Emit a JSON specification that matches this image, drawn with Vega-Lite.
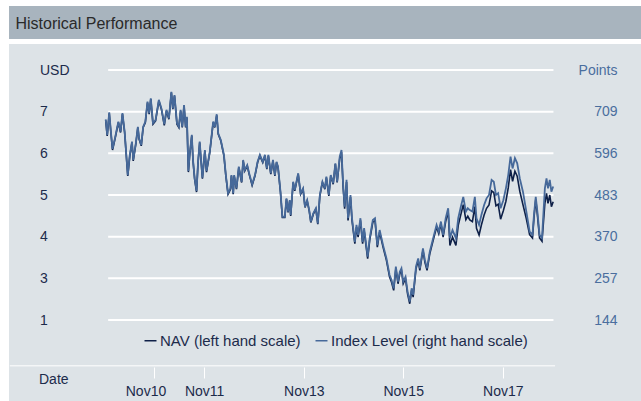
{
"$schema": "https://vega.github.io/schema/vega-lite/v6.json",
"background": "white",
"padding": {"left": 9, "top": 6, "right": 0, "bottom": 0},
"config": {"font": "Liberation Sans", "view": {"stroke": null}},
"spacing": 5,
"datasets": {
"grid": [{"usd":2},{"usd":3},{"usd":4},{"usd":5},{"usd":6},{"usd":7},{"usd":8}],
"perf": [
{"date":"2009-11-08","nav":6.79,"index":688},{"date":"2009-11-19","nav":6.42,"index":646},{"date":"2009-12-04","nav":6.96,"index":707},{"date":"2009-12-16","nav":6.50,"index":655},{"date":"2009-12-28","nav":6.08,"index":608},{"date":"2010-01-15","nav":6.34,"index":637},{"date":"2010-02-09","nav":6.74,"index":682},{"date":"2010-02-25","nav":6.50,"index":655},{"date":"2010-03-11","nav":6.94,"index":705},{"date":"2010-03-27","nav":6.50,"index":655},
{"date":"2010-04-19","nav":5.46,"index":537},{"date":"2010-05-04","nav":5.94,"index":592},{"date":"2010-05-20","nav":6.26,"index":628},{"date":"2010-05-29","nav":5.82,"index":578},{"date":"2010-06-17","nav":6.22,"index":623},{"date":"2010-07-02","nav":6.62,"index":668},{"date":"2010-07-11","nav":6.34,"index":637},{"date":"2010-07-27","nav":6.18,"index":619},{"date":"2010-08-10","nav":6.62,"index":668},{"date":"2010-08-26","nav":6.74,"index":682},
{"date":"2010-09-11","nav":7.22,"index":736},{"date":"2010-09-23","nav":6.94,"index":705},{"date":"2010-10-05","nav":7.30,"index":745},{"date":"2010-10-21","nav":6.70,"index":678},{"date":"2010-11-09","nav":6.78,"index":686},{"date":"2010-12-03","nav":7.26,"index":741},{"date":"2010-12-22","nav":7.06,"index":718},{"date":"2011-01-12","nav":6.67,"index":675},{"date":"2011-01-28","nav":7.02,"index":714},{"date":"2011-02-15","nav":6.82,"index":691},
{"date":"2011-03-05","nav":7.46,"index":763},{"date":"2011-03-16","nav":7.06,"index":718},{"date":"2011-03-28","nav":7.38,"index":754},{"date":"2011-04-15","nav":6.70,"index":678},{"date":"2011-04-29","nav":6.62,"index":668},{"date":"2011-05-12","nav":7.02,"index":714},{"date":"2011-05-24","nav":6.62,"index":668},{"date":"2011-06-06","nav":7.14,"index":727},{"date":"2011-06-18","nav":6.62,"index":668},{"date":"2011-06-27","nav":6.86,"index":695},
{"date":"2011-07-08","nav":5.55,"index":548},{"date":"2011-07-17","nav":5.94,"index":592},{"date":"2011-08-02","nav":6.42,"index":646},{"date":"2011-08-11","nav":5.82,"index":578},{"date":"2011-08-23","nav":5.38,"index":528},{"date":"2011-09-06","nav":5.07,"index":494},{"date":"2011-09-17","nav":5.78,"index":573},{"date":"2011-09-29","nav":6.26,"index":628},{"date":"2011-10-19","nav":5.39,"index":530},{"date":"2011-11-06","nav":6.06,"index":605},
{"date":"2011-11-18","nav":5.55,"index":548},{"date":"2011-12-12","nav":6.02,"index":600},{"date":"2012-01-06","nav":6.74,"index":682},{"date":"2012-01-18","nav":6.62,"index":668},{"date":"2012-02-01","nav":6.91,"index":702},{"date":"2012-02-12","nav":6.46,"index":650},{"date":"2012-03-02","nav":6.30,"index":632},{"date":"2012-03-25","nav":5.94,"index":592},{"date":"2012-04-08","nav":5.46,"index":537},{"date":"2012-04-24","nav":5.02,"index":488},
{"date":"2012-05-12","nav":5.14,"index":501},{"date":"2012-05-19","nav":5.46,"index":537},{"date":"2012-06-01","nav":5.02,"index":488},{"date":"2012-06-08","nav":5.46,"index":537},{"date":"2012-06-25","nav":5.14,"index":501},{"date":"2012-07-12","nav":5.66,"index":560},{"date":"2012-08-02","nav":5.30,"index":519},{"date":"2012-08-13","nav":5.82,"index":578},{"date":"2012-08-25","nav":5.58,"index":551},{"date":"2012-09-12","nav":5.70,"index":564},
{"date":"2012-09-26","nav":5.50,"index":542},{"date":"2012-10-18","nav":5.23,"index":512},{"date":"2012-11-08","nav":5.46,"index":537},{"date":"2012-11-27","nav":5.78,"index":573},{"date":"2012-12-14","nav":5.94,"index":592},{"date":"2013-01-04","nav":5.78,"index":573},{"date":"2013-01-20","nav":5.94,"index":592},{"date":"2013-02-03","nav":5.62,"index":555},{"date":"2013-02-14","nav":5.94,"index":592},{"date":"2013-03-04","nav":5.50,"index":542},
{"date":"2013-03-20","nav":5.82,"index":578},{"date":"2013-04-03","nav":5.46,"index":537},{"date":"2013-04-15","nav":5.78,"index":573},{"date":"2013-04-26","nav":5.66,"index":560},{"date":"2013-05-14","nav":5.06,"index":492},{"date":"2013-05-28","nav":4.46,"index":424},{"date":"2013-06-15","nav":4.46,"index":424},{"date":"2013-06-27","nav":4.90,"index":474},{"date":"2013-07-09","nav":4.58,"index":438},{"date":"2013-07-21","nav":4.86,"index":469},
{"date":"2013-07-28","nav":4.50,"index":429},{"date":"2013-08-15","nav":5.30,"index":519},{"date":"2013-08-27","nav":5.10,"index":497},{"date":"2013-09-21","nav":5.50,"index":542},{"date":"2013-10-09","nav":5.02,"index":488},{"date":"2013-10-27","nav":5.14,"index":501},{"date":"2013-11-10","nav":4.70,"index":451},{"date":"2013-11-26","nav":4.86,"index":469},{"date":"2013-12-11","nav":4.62,"index":442},{"date":"2013-12-23","nav":4.34,"index":411},
{"date":"2014-01-10","nav":4.54,"index":433},{"date":"2014-01-29","nav":4.66,"index":447},{"date":"2014-02-12","nav":4.30,"index":406},{"date":"2014-02-27","nav":4.98,"index":483},{"date":"2014-03-18","nav":5.30,"index":519},{"date":"2014-04-05","nav":5.14,"index":501},{"date":"2014-04-16","nav":5.42,"index":533},{"date":"2014-05-04","nav":4.98,"index":483},{"date":"2014-05-18","nav":5.46,"index":537},{"date":"2014-06-05","nav":5.26,"index":515},
{"date":"2014-06-21","nav":5.74,"index":569},{"date":"2014-07-04","nav":5.30,"index":519},{"date":"2014-07-23","nav":5.87,"index":587},{"date":"2014-08-05","nav":6.03,"index":605},{"date":"2014-08-17","nav":5.19,"index":510},{"date":"2014-08-28","nav":4.67,"index":451},{"date":"2014-09-11","nav":5.31,"index":524},{"date":"2014-09-22","nav":4.39,"index":420},{"date":"2014-10-10","nav":4.95,"index":483},{"date":"2014-10-21","nav":4.39,"index":420},
{"date":"2014-11-11","nav":3.83,"index":356},{"date":"2014-11-23","nav":4.23,"index":402},{"date":"2014-12-05","nav":3.99,"index":375},{"date":"2014-12-22","nav":4.39,"index":420},{"date":"2015-01-07","nav":3.83,"index":356},{"date":"2015-01-18","nav":4.15,"index":393},{"date":"2015-02-13","nav":3.47,"index":316},{"date":"2015-02-28","nav":3.91,"index":366},{"date":"2015-03-23","nav":4.35,"index":415},{"date":"2015-04-08","nav":4.39,"index":420},
{"date":"2015-04-25","nav":3.75,"index":347},{"date":"2015-05-12","nav":4.11,"index":388},{"date":"2015-06-06","nav":3.75,"index":347},{"date":"2015-07-01","nav":3.43,"index":311},{"date":"2015-07-24","nav":3.03,"index":266},{"date":"2015-08-07","nav":2.91,"index":253},{"date":"2015-08-23","nav":2.71,"index":230},{"date":"2015-09-08","nav":3.23,"index":289},{"date":"2015-09-24","nav":2.87,"index":248},{"date":"2015-10-07","nav":3.11,"index":275},
{"date":"2015-10-19","nav":3.19,"index":284},{"date":"2015-11-01","nav":2.87,"index":248},{"date":"2015-11-18","nav":2.99,"index":261},{"date":"2015-12-03","nav":2.63,"index":221},{"date":"2015-12-19","nav":2.39,"index":194},{"date":"2016-01-02","nav":2.71,"index":230},{"date":"2016-01-13","nav":2.55,"index":212},{"date":"2016-02-03","nav":3.23,"index":289},{"date":"2016-02-19","nav":3.43,"index":311},{"date":"2016-03-02","nav":3.19,"index":284},
{"date":"2016-03-25","nav":3.67,"index":338},{"date":"2016-04-08","nav":3.39,"index":307},{"date":"2016-04-24","nav":3.19,"index":284},{"date":"2016-05-14","nav":3.59,"index":329},{"date":"2016-06-08","nav":3.91,"index":366},{"date":"2016-07-03","nav":4.23,"index":402},{"date":"2016-07-19","nav":4.07,"index":384},{"date":"2016-08-04","nav":4.31,"index":411},{"date":"2016-08-20","nav":3.99,"index":375},{"date":"2016-09-08","nav":4.37,"index":420},
{"date":"2016-09-26","nav":4.61,"index":447},{"date":"2016-10-09","nav":3.79,"index":366},{"date":"2016-10-28","nav":3.99,"index":388},{"date":"2016-11-22","nav":3.79,"index":366},{"date":"2016-12-09","nav":4.27,"index":420},{"date":"2016-12-28","nav":4.53,"index":451},{"date":"2017-01-15","nav":4.77,"index":478},{"date":"2017-02-03","nav":4.41,"index":438},{"date":"2017-02-17","nav":4.49,"index":447},{"date":"2017-03-04","nav":4.40,"index":442},
{"date":"2017-03-23","nav":4.36,"index":438},{"date":"2017-04-10","nav":4.72,"index":478},{"date":"2017-04-22","nav":4.20,"index":420},{"date":"2017-05-11","nav":4.04,"index":402},{"date":"2017-05-28","nav":4.28,"index":429},{"date":"2017-06-17","nav":4.52,"index":456},{"date":"2017-07-05","nav":4.68,"index":474},{"date":"2017-07-23","nav":4.76,"index":483},{"date":"2017-08-11","nav":5.10,"index":524},{"date":"2017-08-27","nav":5.06,"index":519},
{"date":"2017-09-12","nav":4.74,"index":483},{"date":"2017-09-28","nav":4.78,"index":488},{"date":"2017-10-16","nav":4.42,"index":447},{"date":"2017-11-05","nav":4.62,"index":469},{"date":"2017-11-24","nav":4.85,"index":501},{"date":"2017-12-11","nav":5.17,"index":537},{"date":"2017-12-28","nav":5.61,"index":587},{"date":"2018-01-12","nav":5.33,"index":555},{"date":"2018-01-29","nav":5.57,"index":583},{"date":"2018-02-15","nav":5.45,"index":569},
{"date":"2018-03-06","nav":5.09,"index":528},{"date":"2018-03-29","nav":4.77,"index":492},{"date":"2018-04-23","nav":4.43,"index":438},{"date":"2018-05-17","nav":4.05,"index":384},{"date":"2018-06-07","nav":3.97,"index":375},{"date":"2018-06-18","nav":4.45,"index":429},{"date":"2018-07-01","nav":4.89,"index":478},{"date":"2018-07-13","nav":4.53,"index":438},{"date":"2018-07-29","nav":3.97,"index":375},{"date":"2018-08-16","nav":3.89,"index":366},
{"date":"2018-09-06","nav":4.80,"index":501},{"date":"2018-09-18","nav":5.04,"index":528},{"date":"2018-09-29","nav":4.80,"index":501},{"date":"2018-10-12","nav":5.00,"index":524},{"date":"2018-10-24","nav":4.72,"index":492},{"date":"2018-11-06","nav":4.84,"index":506}
]
},
"vconcat": [
{
"width": 632, "height": 33,
"view": {"fill": "#a8b4be", "stroke": null},
"title": {"text": "Historical Performance", "orient": "bottom", "anchor": "start", "frame": "group", "offset": -15, "baseline": "middle", "dx": 6.5, "fontSize": 16, "fontWeight": "normal", "color": "#2a2a2a", "font": "Liberation Sans"},
"data": {"values": []},
"mark": "rect",
"encoding": {}
},
{
"width": 632, "height": 357,
"view": {"fill": "#dde3e7", "stroke": null},
"resolve": {"scale": {"y": "independent"}},
"layer": [
{
"data": {"name": "grid"},
"mark": {"type": "rule", "color": "white", "strokeWidth": 2},
"encoding": {
"x": {"datum": {"year": 2009, "month": 11, "date": 26, "utc": true}, "type": "temporal"},
"x2": {"datum": {"year": 2018, "month": 11, "date": 8, "utc": true}},
"y": {"field": "usd", "type": "quantitative", "axis": null, "scale": {"domain": [2, 8], "range": [276, 26], "nice": false, "zero": false}}
}
},
{
"data": {"values": [{"usd": 0.9}]},
"mark": {"type": "rule", "color": "white", "strokeWidth": 1},
"encoding": {
"x": {"datum": {"year": 2007, "month": 12, "date": 5, "utc": true}, "type": "temporal"},
"x2": {"datum": {"year": 2018, "month": 11, "date": 20, "utc": true}},
"y": {"field": "usd", "type": "quantitative", "axis": null, "scale": {"domain": [2, 8], "range": [276, 26], "nice": false, "zero": false}}
}
},
{
"data": {"name": "perf"},
"mark": {"type": "line", "strokeWidth": 1.6},
"encoding": {
"x": {"field": "date", "type": "temporal",
"scale": {"type": "utc", "domain": [{"year": 2009, "month": 11, "date": 1, "utc": true}, {"year": 2018, "month": 11, "date": 1, "utc": true}], "range": [95.75, 543.5]},
"axis": {"orient": "bottom", "offset": -34, "domain": false, "grid": false, "tickColor": "white", "tickSize": 11, "tickWidth": 1,
"values": [1288569600000, 1320105600000, 1383264000000, 1446336000000, 1509494400000],
"labelExpr": "utcFormat(datum.value, '%b%y')", "labelFontSize": 14, "labelColor": "#1c2b4b", "labelPadding": 6, "labelFont": "Liberation Sans",
"labelOffset": {"condition": {"test": "datum.value < 1300000000000", "value": -9}, "value": 0},
"title": "Date", "titleX": 29.5, "titleY": 12, "titleAlign": "left", "titleBaseline": "middle", "titleFontSize": 14, "titleFontWeight": "normal", "titleColor": "#1c2b4b", "titleFont": "Liberation Sans"}},
"y": {"field": "nav", "type": "quantitative",
"scale": {"domain": [2, 8], "range": [276, 26], "nice": false, "zero": false},
"axis": {"orient": "left", "offset": -30.5, "domain": false, "ticks": false, "grid": false, "values": [2, 3, 4, 5, 6, 7, 8],
"labelExpr": "datum.value == 8 ? 'USD' : datum.value == 2 ? '1' : datum.label", "labelAlign": "left", "labelBaseline": "middle", "labelPadding": 0, "labelFontSize": 14, "labelColor": "#1c2b4b", "labelFont": "Liberation Sans", "title": null}},
"color": {"datum": "NAV (left hand scale)", "type": "nominal",
"scale": {"domain": ["NAV (left hand scale)", "Index Level (right hand scale)"], "range": ["#0e2048", "#46699a"]},
"legend": {"orient": "none", "legendX": 134, "legendY": 327, "direction": "horizontal", "title": null, "padding": 0, "columnPadding": 11, "symbolType": "stroke", "symbolSize": 144, "symbolStrokeWidth": 1.5, "labelOffset": 2, "labelFontSize": 15, "labelColor": "#1c2b4b", "labelFont": "Liberation Sans", "labelLimit": 300}}
}
},
{
"data": {"name": "perf"},
"mark": {"type": "line", "strokeWidth": 1.8},
"encoding": {
"x": {"field": "date", "type": "temporal"},
"y": {"field": "index", "type": "quantitative",
"scale": {"domain": [144, 822], "range": [276, 26], "nice": false, "zero": false},
"axis": {"orient": "right", "offset": -24, "domain": false, "ticks": false, "grid": false, "values": [144, 257, 370, 483, 596, 709, 822],
"labelExpr": "datum.value == 822 ? 'Points' : datum.label", "labelAlign": "right", "labelBaseline": "middle", "labelPadding": 0, "labelFontSize": 14, "labelColor": "#4a6e9e", "labelFont": "Liberation Sans", "title": null}},
"color": {"datum": "Index Level (right hand scale)", "type": "nominal"}
}
}
]
}
]
}
